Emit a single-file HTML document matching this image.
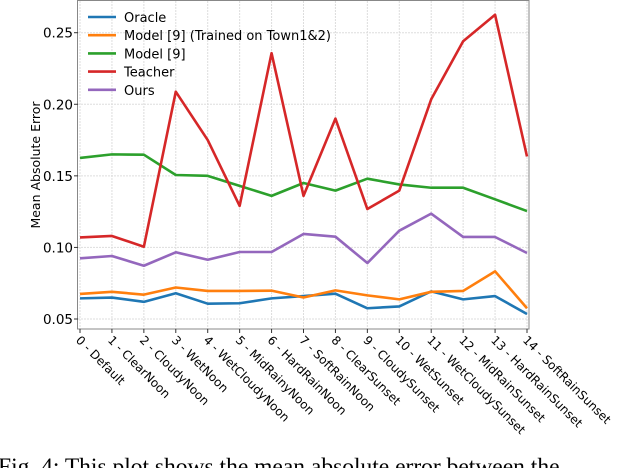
<!DOCTYPE html>
<html><head><meta charset="utf-8"><style>
body{margin:0;background:#fff;width:640px;height:468px;overflow:hidden}
svg{display:block}
text{font-family:"DejaVu Sans","Liberation Sans",sans-serif;fill:#000}
</style></head><body>
<svg id="chart" width="640" height="468">
<g id="grid"></g>
<g id="series"></g>
<rect x="77.5" y="0.5" width="451.5" height="328.5" fill="none" stroke="#888" stroke-width="1"/>
<g id="yticks"></g>
<g id="xticks"></g>
<text x="40" y="165" font-size="12.5" text-anchor="middle" transform="rotate(-90 40 165)">Mean Absolute Error</text>
<g id="legend"></g>
<text x="-2" y="474" font-size="23.5" style="font-family:'Liberation Serif',serif">Fig. 4: This plot shows the mean absolute error between the</text>
</svg>
<script>
const categories=["0 - Default","1 - ClearNoon","2 - CloudyNoon","3 - WetNoon","4 - WetCloudyNoon","5 - MidRainyNoon","6 - HardRainNoon","7 - SoftRainNoon","8 - ClearSunset","9 - CloudySunset","10 - WetSunset","11 - WetCloudySunset","12 - MidRainSunset","13 - HardRainSunset","14 - SoftRainSunset"];
const seriesNames=["Oracle","Model [9] (Trained on Town1&2)","Model [9]","Teacher","Ours"];
const oracle=[0.0644,0.065,0.062,0.068,0.0607,0.061,0.0644,0.066,0.0677,0.0575,0.0588,0.0693,0.0637,0.066,0.0535];
const modelTown=[0.0675,0.069,0.067,0.072,0.0696,0.0696,0.0698,0.065,0.070,0.0665,0.0637,0.069,0.0696,0.0833,0.0575];
const model9=[0.1625,0.165,0.1648,0.1506,0.150,0.143,0.136,0.145,0.1397,0.148,0.144,0.1417,0.1417,0.1336,0.1254];
const teacher=[0.107,0.108,0.1005,0.2088,0.175,0.129,0.2357,0.136,0.190,0.1268,0.1397,0.2035,0.244,0.2625,0.1635];
const ours=[0.0924,0.094,0.0872,0.0966,0.0914,0.0968,0.0968,0.1094,0.1075,0.0891,0.1117,0.1236,0.1073,0.1073,0.0961];
const yTicks=[0.05,0.10,0.15,0.20,0.25];
const yTickLabels=["0.05","0.10","0.15","0.20","0.25"];
const colors=["#1f77b4","#ff7f0e","#2ca02c","#d62728","#9467bd"];
const NS="http://www.w3.org/2000/svg";
const xS=i=>80+i*(527-80)/(categories.length-1);
const yS=v=>319-(v-0.05)*(319-32.7)/0.2;
function mk(tag,attrs,parent){const e=document.createElementNS(NS,tag);for(const k in attrs)e.setAttribute(k,attrs[k]);parent.appendChild(e);return e;}
const grid=document.getElementById('grid'),ser=document.getElementById('series'),yt=document.getElementById('yticks'),xt=document.getElementById('xticks'),lg=document.getElementById('legend');
categories.forEach((c,i)=>{
 const l=mk('line',{x1:xS(i),x2:xS(i),y1:1,y2:329,stroke:'#ddd','stroke-width':1,'stroke-dasharray':'2,1'},grid);
 
 
 const t=mk('line',{x1:xS(i),x2:xS(i),y1:329,y2:333,stroke:'#333'},xt);
 
 
 const tx=mk('text',{x:xS(i)-2,y:342,'font-size':12,transform:`rotate(45 ${xS(i)-2} 338)`},xt);
 tx.textContent=c;
 
 
});
yTicks.forEach((v,i)=>{
 const l=mk('line',{x1:78,x2:529,y1:yS(v),y2:yS(v),stroke:'#ddd','stroke-width':1,'stroke-dasharray':'2,1'},grid);
 
 
 const t=mk('line',{x1:74,x2:78,y1:yS(v),y2:yS(v),stroke:'#333'},yt);
 
 
 const tx=mk('text',{x:73,y:yS(v)+5,'font-size':13.5,'text-anchor':'end'},yt);
 tx.textContent=yTickLabels[i];
 
 
});
[oracle,modelTown,model9,teacher,ours].forEach((d,s)=>{
 const p=mk('polyline',{points:d.map((v,i)=>xS(i)+','+yS(v)).join(' '),fill:'none',stroke:colors[s],'stroke-width':2.6,'stroke-linejoin':'round'},ser);
 
 
 const ly=17+s*18.2;
 const ll=mk('line',{x1:88,x2:116,y1:ly,y2:ly,stroke:colors[s],'stroke-width':2.6},lg);
 
 
 const lt=mk('text',{x:124,y:ly+5,'font-size':13},lg);
 lt.textContent=seriesNames[s];
 
 
});
</script>
</body></html>
